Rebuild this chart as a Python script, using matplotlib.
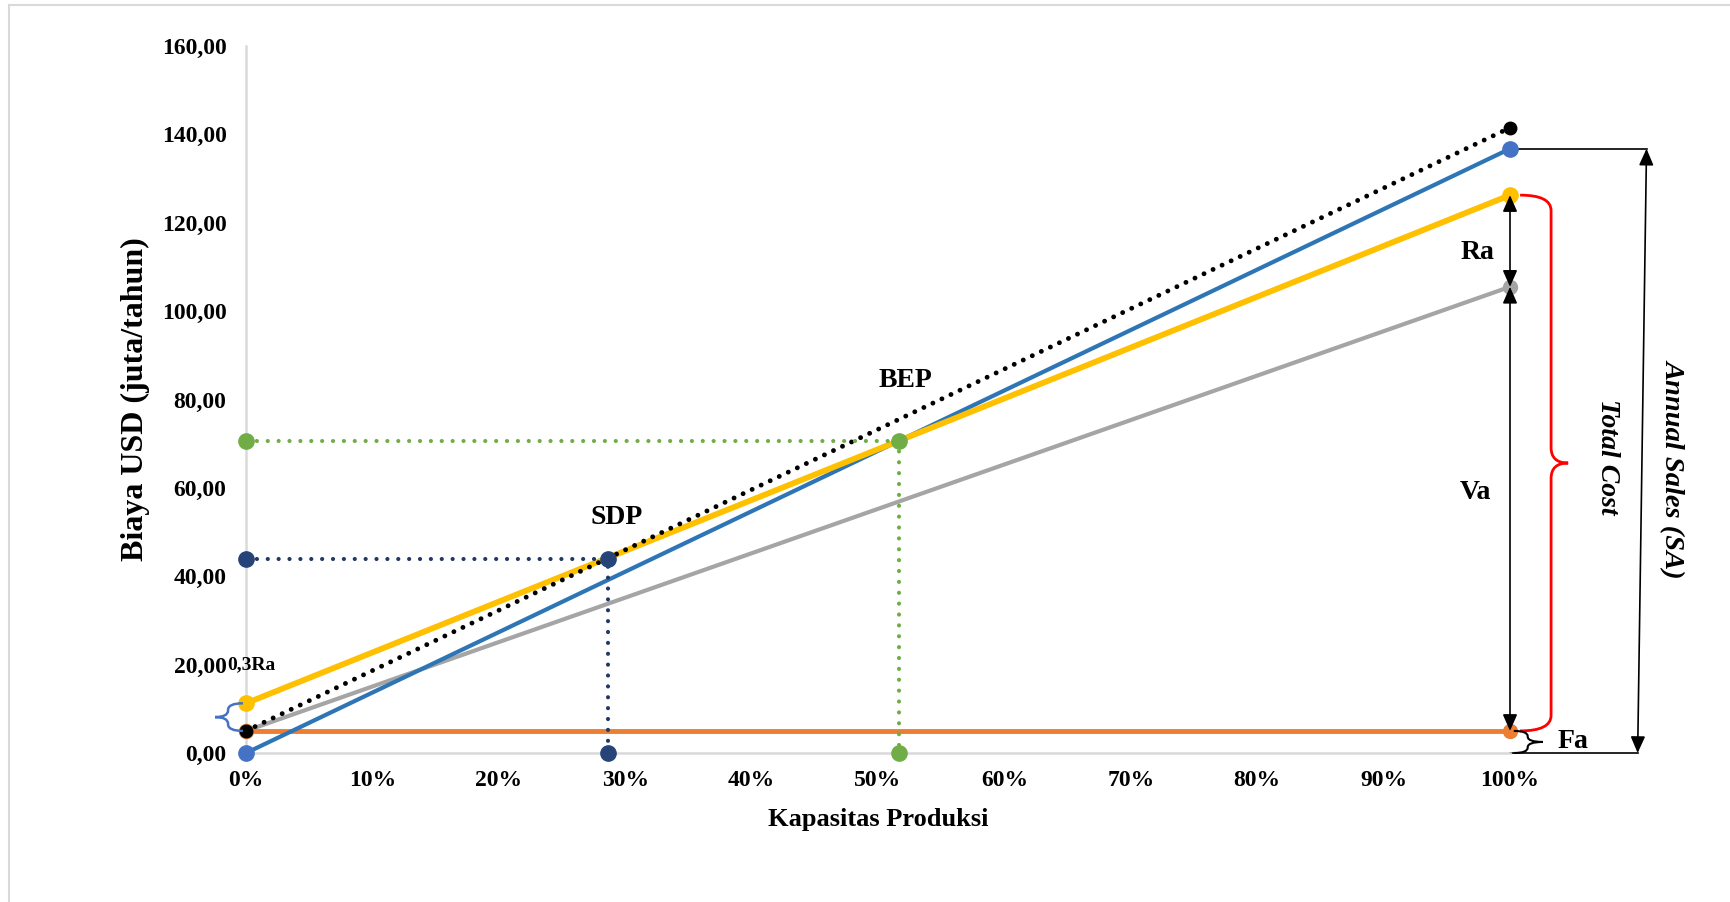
import matplotlib
matplotlib.use("Agg")
import matplotlib.pyplot as plt
from matplotlib.path import Path
from matplotlib.patches import PathPatch
from matplotlib.lines import Line2D

plt.rcParams['font.family'] = ['Liberation Serif', 'DejaVu Serif']
plt.rcParams['font.weight'] = 'bold'

# data (kapasitas 0..1, biaya juta USD/tahun)
kapasitas = [0.0, 1.0]
sales = [0.0, 136.75]          # SA (blue)
total_cost = [11.25, 126.25]   # Fa + 0.3Ra -> Fa + Va + Ra (yellow)
variable = [5.0, 105.5]        # Fa -> Fa + Va (gray)
fixed = [5.0, 5.0]             # Fa (orange)
sdp_line = [5.0, 141.5]        # black dotted
bep = (0.517, 70.5)
sdp = (0.286, 44.0)

yticks = [0, 20, 40, 60, 80, 100, 120, 140, 160]
ytick_labels = ['0,00', '20,00', '40,00', '60,00', '80,00', '100,00', '120,00', '140,00', '160,00']
xticks = [0.0, 0.1, 0.2, 0.3, 0.4, 0.5, 0.6, 0.7, 0.8, 0.9, 1.0]
xtick_labels = ['0%', '10%', '20%', '30%', '40%', '50%', '60%', '70%', '80%', '90%', '100%']

fig = plt.figure(figsize=(17.31, 9.02), dpi=100)
ax = fig.add_axes([246 / 1731, 1 - 753 / 902, 1264 / 1731, 707 / 902])

# chart border (left + top)
fig.add_artist(Line2D([9 / 1731, 9 / 1731], [0, 1 - 5 / 902], color='#D9D9D9', lw=1.5))
fig.add_artist(Line2D([9 / 1731, 1], [1 - 5 / 902, 1 - 5 / 902], color='#D9D9D9', lw=1.5))

ax.plot(kapasitas, variable, color='#A5A5A5', lw=3, marker='o', ms=10, clip_on=False, zorder=3)
ax.plot(kapasitas, fixed, color='#ED7D31', lw=3.5, marker='o', ms=10, clip_on=False, zorder=3)
ax.plot(kapasitas, sales, color='#2E75B6', lw=3, marker='o', ms=11,
        mfc='#4472C4', mec='#4472C4', clip_on=False, zorder=4)
ax.plot(kapasitas, total_cost, color='#FFC000', lw=4.2, marker='o', ms=11, clip_on=False, zorder=5)
ax.plot(kapasitas, sdp_line, color='black', lw=3.5, ls=(0, (0.01, 2.05)), dash_capstyle='round',
        marker='o', ms=9, clip_on=False, zorder=6)

# BEP / SDP guide lines
for pt, col, mcol in [(bep, '#70AD47', '#70AD47'), (sdp, '#203864', '#264478')]:
    ax.plot([0, pt[0], pt[0]], [pt[1], pt[1], 0], color=col, lw=3, ls=(0, (0.01, 2.6)),
            dash_capstyle='round', marker='o', ms=11, mfc=mcol, mec=mcol, clip_on=False, zorder=7)

ax.set_xlim(0, 1)
ax.set_ylim(0, 160)
ax.set_xticks(xticks)
ax.set_xticklabels(xtick_labels)
ax.set_yticks(yticks)
ax.set_yticklabels(ytick_labels)
ax.tick_params(length=0, labelsize=17, pad=14)
ax.tick_params(axis='x', pad=12)
for s in ['top', 'right']:
    ax.spines[s].set_visible(False)
for s in ['left', 'bottom']:
    ax.spines[s].set_color('#D9D9D9')
    ax.spines[s].set_linewidth(1.8)

ax.set_xlabel('Kapasitas Produksi', fontsize=19, fontweight='bold', va='center')
ax.xaxis.set_label_coords(0.5, -0.0934)
ax.set_ylabel('Biaya USD (juta/tahun)', fontsize=23, fontweight='bold', va='center')
ax.yaxis.set_label_coords(-0.0878, 0.5)

# point labels
ax.text(0.293, 53.2, 'SDP', fontsize=20, ha='center', va='center')
ax.text(0.522, 84.3, 'BEP', fontsize=20, ha='center', va='center')
ax.text(-0.0145, 19.9, '0,3Ra', fontsize=14, ha='left', va='center', clip_on=False)


def brace(x_arm, x_spine, x_tip, y_lo, y_hi, color, lw, r):
    y_m = (y_lo + y_hi) / 2
    verts = [(x_arm, y_hi), (x_spine, y_hi), (x_spine, y_hi - r),
             (x_spine, y_m + r), (x_spine, y_m), (x_tip, y_m),
             (x_spine, y_m), (x_spine, y_m - r),
             (x_spine, y_lo + r), (x_spine, y_lo), (x_arm, y_lo)]
    codes = [Path.MOVETO, Path.CURVE3, Path.CURVE3,
             Path.LINETO, Path.CURVE3, Path.CURVE3,
             Path.CURVE3, Path.CURVE3,
             Path.LINETO, Path.CURVE3, Path.CURVE3]
    ax.add_patch(PathPatch(Path(verts, codes), fill=False, ec=color, lw=lw,
                           clip_on=False, zorder=8))


# 0,3Ra brace (left)
brace(-0.0024, -0.0142, -0.0245, fixed[0], total_cost[0], '#4472C4', 1.8, 1.5)
# Total Cost brace
brace(1.008, 1.0325, 1.046, fixed[1], total_cost[1], '#FF0000', 2.0, 3.5)
# Fa brace
brace(1.003, 1.014, 1.026, 0, fixed[1], 'black', 1.5, 1.2)

arrow = dict(arrowstyle='<|-|>,head_length=0.5,head_width=0.22', mutation_scale=20,
             lw=1.2, color='black', shrinkA=0, shrinkB=0)
ax.annotate('', xy=(1.0, total_cost[1]), xytext=(1.0, variable[1]), arrowprops=arrow,
            annotation_clip=False, zorder=9)
ax.annotate('', xy=(1.0, variable[1]), xytext=(1.0, fixed[1]), arrowprops=arrow,
            annotation_clip=False, zorder=9)
ax.annotate('', xy=(1.108, sales[1]), xytext=(1.101, 0), arrowprops=arrow,
            annotation_clip=False, zorder=9)
ax.plot([1.0, 1.108], [sales[1], sales[1]], color='black', lw=1.2, clip_on=False, zorder=2)
ax.plot([1.0, 1.101], [0, 0], color='black', lw=1.2, clip_on=False, zorder=2)

ax.text(0.974, 113.2, 'Ra', fontsize=20, ha='center', va='center')
ax.text(0.973, 58.9, 'Va', fontsize=20, ha='center', va='center')
ax.text(1.038, 2.5, 'Fa', fontsize=20, ha='left', va='center', clip_on=False)
ax.text(1.0775, 67, 'Total Cost', fontsize=20, style='italic', rotation=-90,
        ha='center', va='center', clip_on=False)
ax.text(1.129, 64.5, 'Annual Sales (SA)', fontsize=20.5, style='italic', rotation=-90,
        ha='center', va='center', clip_on=False)

fig.savefig('out.png', dpi=100)
